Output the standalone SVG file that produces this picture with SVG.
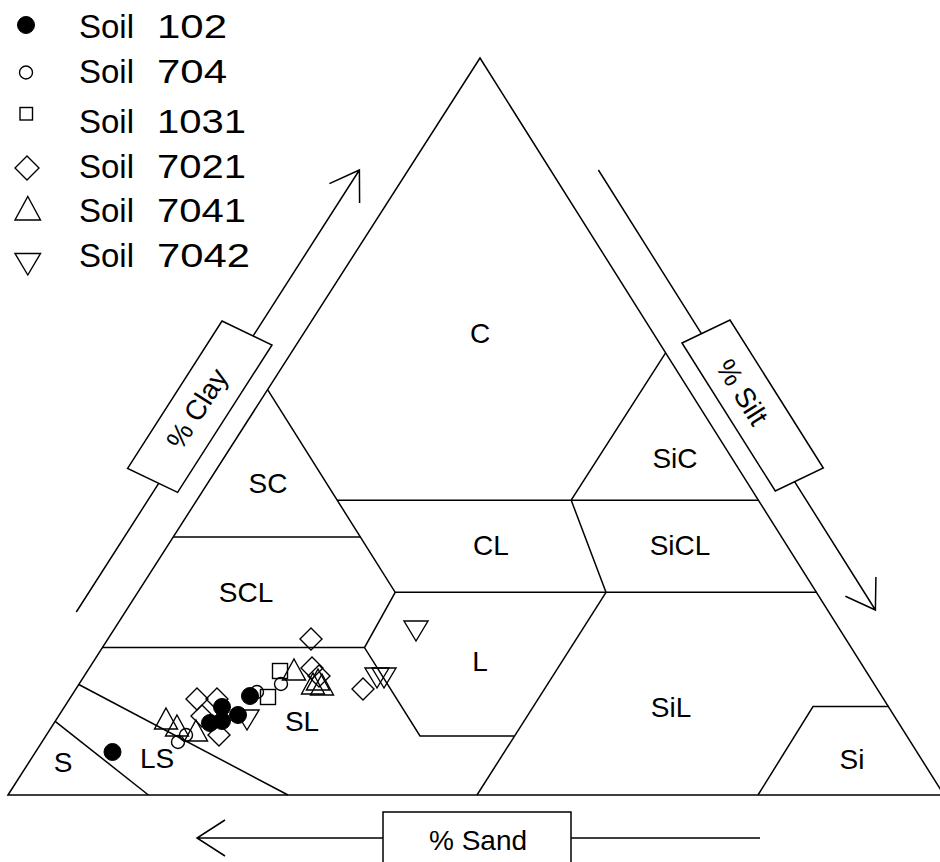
<svg xmlns="http://www.w3.org/2000/svg" xmlns:xlink="http://www.w3.org/1999/xlink" width="940" height="862" viewBox="0 0 940 862">
<style>
.ln{fill:none;stroke:#000;stroke-width:1.5}
.bx{fill:#fff;stroke:#000;stroke-width:1.5}
.lab{font-family:"Liberation Sans",Arial,sans-serif;font-size:28px;fill:#000;text-anchor:middle}
.leg{font-family:"Liberation Sans",Arial,sans-serif;font-size:33px;fill:#000}
.m{fill:none;stroke:#000;stroke-width:1.4}
.f{fill:#000;stroke:#000;stroke-width:1}
</style>
<defs>
<circle id="fc" r="8.5" class="f"/>
<circle id="oc" r="6.5" class="m"/>
<rect id="sq" x="-7.5" y="-7.5" width="15" height="15" class="m"/>
<polygon id="dm" points="0,-11 11,0 0,11 -11,0" class="m"/>
<polygon id="tu" points="0,-11 11.5,10 -11.5,10" class="m"/>
<polygon id="td" points="-12,-9 12,-9 0,11" class="m"/>
</defs>
<rect width="940" height="862" fill="#fff"/>

<g id="legend">
<use xlink:href="#fc" href="#fc" x="26" y="25"/>
<use xlink:href="#oc" href="#oc" x="26" y="72.5"/>
<rect x="20" y="107.5" width="12.5" height="12.5" class="m"/>
<polygon points="27,156 39,168 27,180 15,168" class="m"/>
<polygon points="27.8,196.5 40.5,220 15,220" class="m"/>
<polygon points="15,253.5 40.5,253.5 27.8,275" class="m"/>
<text class="leg" x="79" y="38.3">Soil <tspan x="157" textLength="70" lengthAdjust="spacingAndGlyphs">102</tspan></text>
<text class="leg" x="79" y="83.3">Soil <tspan x="157" textLength="70" lengthAdjust="spacingAndGlyphs">704</tspan></text>
<text class="leg" x="79" y="133.3">Soil <tspan x="157" textLength="89" lengthAdjust="spacingAndGlyphs">1031</tspan></text>
<text class="leg" x="79" y="178.3">Soil <tspan x="157" textLength="89" lengthAdjust="spacingAndGlyphs">7021</tspan></text>
<text class="leg" x="79" y="221.7">Soil <tspan x="157" textLength="89" lengthAdjust="spacingAndGlyphs">7041</tspan></text>
<text class="leg" x="79" y="266.7">Soil <tspan x="157" textLength="93" lengthAdjust="spacingAndGlyphs">7042</tspan></text>
</g>

<g id="triangle">
<path class="ln" d="M8,795 L480,58 L944,795 Z"/>
</g>

<g id="boundaries">
<path class="ln" d="M55.2,721.3 L148.4,795"/>
<path class="ln" d="M78.8,684.5 L288,795"/>
<path class="ln" d="M102.4,647.6 L364.5,647.6"/>
<path class="ln" d="M173.2,537 L360.4,537"/>
<path class="ln" d="M267.6,389.7 L395.2,592.3 L816.4,592.3"/>
<path class="ln" d="M395.2,592.3 L364.5,647.6 L420,736 L514,736"/>
<path class="ln" d="M606,592.3 L477,795"/>
<path class="ln" d="M337.2,500.2 L758.4,500.2"/>
<path class="ln" d="M665.6,352.8 L571.2,500.2 L606,592.3"/>
<path class="ln" d="M758,795 L813,706.6 L889,706.6"/>
</g>

<g id="region-labels">
<text class="lab" x="480" y="343">C</text>
<text class="lab" x="268" y="493">SC</text>
<text class="lab" x="246" y="602">SCL</text>
<text class="lab" x="491" y="555">CL</text>
<text class="lab" x="680" y="555">SiCL</text>
<text class="lab" x="675" y="468">SiC</text>
<text class="lab" x="480" y="671">L</text>
<text class="lab" x="302" y="731">SL</text>
<text class="lab" x="671" y="717">SiL</text>
<text class="lab" x="157" y="768">LS</text>
<text class="lab" x="63" y="772">S</text>
<text class="lab" x="852" y="769">Si</text>
</g>

<g id="connectors">
<path class="ln" d="M197,838 L760,838 M225,820 L197,838 L225,856"/>
<path class="ln" d="M76.3,612 L359.4,170 M329.4,183.6 L359.4,170 L359.6,203"/>
<path class="ln" d="M598.4,170 L875.4,610 M875.9,577 L875.4,610 L845.4,596.2"/>
</g>

<g id="axis-sand">
<rect class="bx" x="383" y="812" width="188" height="56"/>
<text class="lab" x="478" y="850">% Sand</text>
</g>
<g id="axis-clay">
<polygon class="bx" points="222,321 272,345 177.6,492.4 127.6,468.4"/>
<text class="lab" transform="translate(197.5,409) rotate(-57.4)" x="0" y="9">% Clay</text>
</g>
<g id="axis-silt">
<polygon class="bx" points="682,343 730,320 823.3,468 775.3,491"/>
<text class="lab" transform="translate(742.5,392) rotate(57.8)" x="0" y="10">% Silt</text>
</g>

<g id="data">
<use href="#fc" x="112.5" y="752"/>
<use href="#fc" x="250" y="696"/>
<use href="#fc" x="222" y="707"/>
<use href="#fc" x="238" y="715"/>
<use href="#fc" x="210" y="723"/>
<use href="#fc" x="222" y="721"/>
<use href="#oc" x="281" y="684"/>
<use href="#oc" x="257" y="692"/>
<use href="#oc" x="178" y="742"/>
<use href="#oc" x="186" y="735"/>
<use href="#sq" x="280" y="671"/>
<use href="#sq" x="268" y="697"/>
<use href="#dm" x="311" y="639"/>
<use href="#dm" x="312" y="668"/>
<use href="#dm" x="363" y="689"/>
<use href="#dm" x="197" y="699"/>
<use href="#dm" x="217" y="699"/>
<use href="#dm" x="202" y="716"/>
<use href="#dm" x="219" y="735"/>
<use href="#dm" x="319" y="676"/>
<use href="#tu" x="294" y="670"/>
<use href="#tu" x="313" y="684"/>
<use href="#tu" x="318" y="680"/>
<use href="#tu" x="322" y="685"/>
<use href="#tu" x="166" y="719"/>
<use href="#tu" x="177" y="726"/>
<use href="#tu" x="196" y="731"/>
<use href="#td" x="416" y="630"/>
<use href="#td" x="377" y="677"/>
<use href="#td" x="384" y="677"/>
<use href="#td" x="247" y="719"/>
</g>
</svg>
